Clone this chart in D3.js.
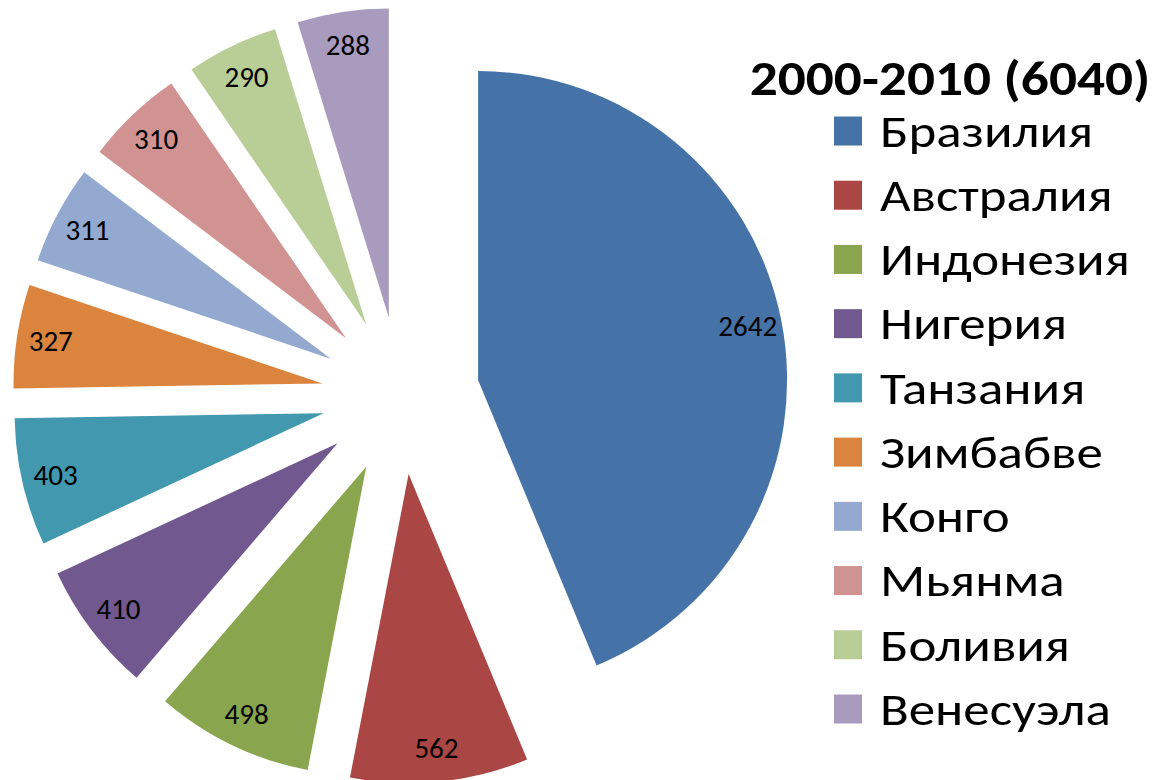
<!DOCTYPE html>
<html>
<head>
<meta charset="utf-8">
<script src="https://cdn.jsdelivr.net/npm/d3@7"></script>
<style>
  html, body { margin: 0; padding: 0; background: #fff; }
  svg { display: block; }
</style>
</head>
<body>
<svg id="chart" width="1166" height="780"></svg>
<script>
// ---- data ----
const chartTitle = "2000-2010 (6040)";
const countries = ["Бразилия", "Австралия", "Индонезия", "Нигерия", "Танзания", "Зимбабве", "Конго", "Мьянма", "Боливия", "Венесуэла"];
const values = [2642, 562, 498, 410, 403, 327, 311, 310, 290, 288];
const colors = ["#4572A7", "#AA4643", "#89A54E", "#71588F", "#4198AF", "#DB843D", "#93A9CF", "#D19392", "#B9CD96", "#A99BBD"];

// ---- layout ----
const cx = 400.6, cy = 395.5;
const radius = 309;
const explode = 79;
const labelFactor = 0.89;
const fontFamily = "Carlito, Calibri, Roboto, 'Noto Sans', sans-serif";

const svg = d3.select("#chart");

const pie = d3.pie().sort(null).value(d => d.value).startAngle(0).endAngle(2 * Math.PI);
const data = countries.map((c, i) => ({ name: c, value: values[i] }));
const arcs = pie(data);

const arc = d3.arc().innerRadius(0).outerRadius(radius);
const color = d3.scaleOrdinal().domain(countries).range(colors);

const g = svg.append("g").attr("transform", `translate(${cx},${cy})`);

const slices = g.selectAll("g.slice").data(arcs).enter().append("g")
  .attr("class", "slice")
  .attr("transform", d => {
    const mid = (d.startAngle + d.endAngle) / 2;
    return `translate(${explode * Math.sin(mid)},${-explode * Math.cos(mid)})`;
  });

slices.append("path")
  .attr("d", arc)
  .attr("fill", d => color(d.data.name));

slices.append("text")
  .attr("x", d => radius * labelFactor * Math.sin((d.startAngle + d.endAngle) / 2))
  .attr("y", d => -radius * labelFactor * Math.cos((d.startAngle + d.endAngle) / 2))
  .attr("text-anchor", "middle")
  .attr("dominant-baseline", "central")
  .attr("font-family", fontFamily)
  .attr("font-size", 29)
  .attr("fill", "#000")
  .text(d => d.data.value);

// ---- legend ----
svg.append("g")
  .attr("transform", "translate(950,95) scale(1.13,1)")
  .append("text")
  .attr("text-anchor", "middle")
  .attr("font-family", fontFamily)
  .attr("font-weight", "bold")
  .attr("font-size", 49)
  .attr("fill", "#000")
  .text(chartTitle);

const legendY = d3.scalePoint().domain(countries).range([131, 709]);

const items = svg.selectAll("g.legend").data(countries).enter().append("g")
  .attr("class", "legend")
  .attr("transform", d => `translate(0,${legendY(d)})`);

items.append("rect")
  .attr("x", 834)
  .attr("y", -14.5)
  .attr("width", 28)
  .attr("height", 29)
  .attr("fill", d => color(d));

items.append("g")
  .attr("transform", "translate(880,0) scale(1.15,1)")
  .append("text")
  .attr("dominant-baseline", "central")
  .attr("font-family", fontFamily)
  .attr("font-size", 46)
  .attr("fill", "#000")
  .text(d => d);
</script>
</body>
</html>
